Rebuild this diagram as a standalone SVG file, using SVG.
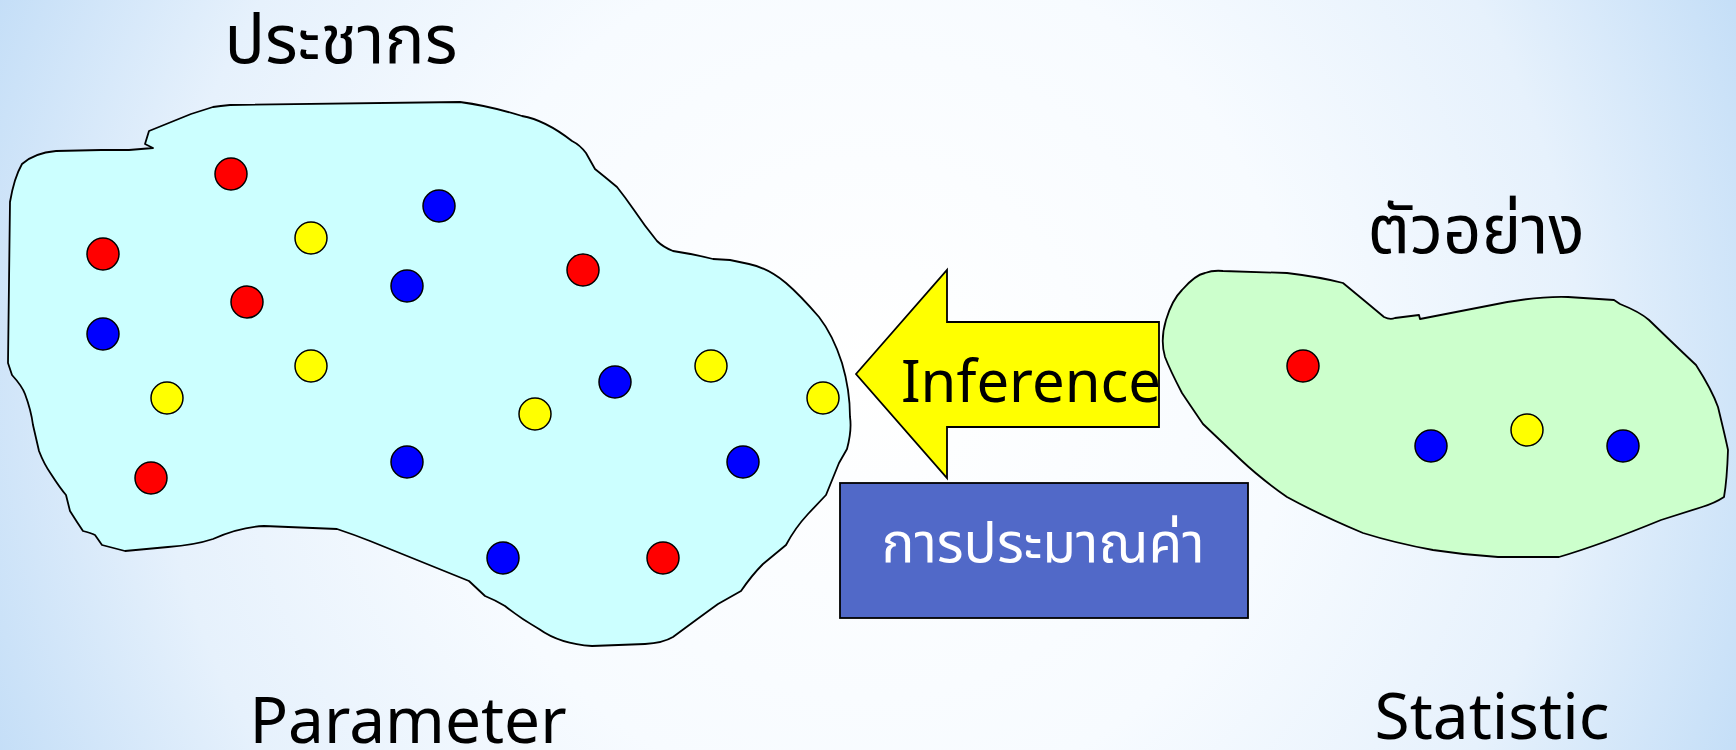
<svg xmlns="http://www.w3.org/2000/svg" width="1736" height="750" viewBox="0 0 1736 750">
<defs>
<radialGradient id="bg" gradientUnits="userSpaceOnUse" cx="868" cy="375" r="950">
<stop offset="0" stop-color="#ffffff"/>
<stop offset="0.45" stop-color="#f7fbff"/>
<stop offset="0.75" stop-color="#e6f1fc"/>
<stop offset="1" stop-color="#c4def7"/>
</radialGradient>
<style>
.blob{stroke:#000;stroke-width:1.8;stroke-linejoin:round}
.dot{stroke:#000;stroke-width:1.5}
.r{fill:#ff0000}.y{fill:#ffff00}.b{fill:#0000ff}
.lbl{font-family:"Noto Sans Thai","Open Sans","Noto Sans",sans-serif;fill:#000;text-anchor:middle}
.th{font-family:"Noto Sans Thai","Noto Sans Thai UI","Leelawadee UI","Open Sans",sans-serif;text-anchor:middle}
</style>
</defs>
<rect width="1736" height="750" fill="url(#bg)"/>

<g id="population">
<path class="blob" fill="#ccffff" d="M149,131 L145,144 L153,148 L129,150 L101,150 L56,151 Q34,153 22,164 Q14,178 10,202 L8,363 L12,375 Q22,386 25,394 Q31,410 33,425 L39,451 Q44,464 51,474 Q60,488 66,495 L70,511 L77,522 L83,531 Q91,533 95,535 L102,545 L125,551 L168,547 Q195,545 213,539 Q240,527 264,526 L337,529 Q355,535 370,541 L469,581 L485,596 Q495,600 505,606 Q520,618 539,629 Q560,644 592,646 L645,644 Q663,643 673,637 Q700,617 718,604 L741,591 Q752,575 763,564 L786,545 Q795,528 808,514 L826,495 L839,463 L847,449 Q852,430 850,417 Q850,390 842,363 Q833,335 819,317 Q800,295 786,283 Q768,268 749,264 L730,260 L713,259 Q693,254 673,251 Q663,247 657,241 Q644,225 634,210 Q625,197 617,187 Q605,177 595,169 L586,153 Q580,145 572,141 Q545,120 522,116 Q490,106 460,102 L230,105 Q220,106 213,107 L191,114 Z"/>
<circle class="dot r" cx="231" cy="174" r="16"/>
<circle class="dot b" cx="439" cy="206" r="16"/>
<circle class="dot y" cx="311" cy="238" r="16"/>
<circle class="dot r" cx="103" cy="254" r="16"/>
<circle class="dot r" cx="583" cy="270" r="16"/>
<circle class="dot b" cx="407" cy="286" r="16"/>
<circle class="dot r" cx="247" cy="302" r="16"/>
<circle class="dot b" cx="103" cy="334" r="16"/>
<circle class="dot y" cx="311" cy="366" r="16"/>
<circle class="dot y" cx="711" cy="366" r="16"/>
<circle class="dot b" cx="615" cy="382" r="16"/>
<circle class="dot y" cx="167" cy="398" r="16"/>
<circle class="dot y" cx="823" cy="398" r="16"/>
<circle class="dot y" cx="535" cy="414" r="16"/>
<circle class="dot b" cx="407" cy="462" r="16"/>
<circle class="dot b" cx="743" cy="462" r="16"/>
<circle class="dot r" cx="151" cy="478" r="16"/>
<circle class="dot b" cx="503" cy="558" r="16"/>
<circle class="dot r" cx="663" cy="558" r="16"/>
</g>

<g id="sample">
<path class="blob" fill="#ccffcc" d="M1223,271 L1287,273 Q1320,277 1343,283 L1366,302 L1384,317 Q1390,320 1395,318 L1419,315 L1420,319 L1492,305 Q1535,296 1568,297 L1614,300 L1620,304 Q1640,312 1649,320 Q1680,350 1696,365 Q1712,390 1718,407 Q1726,440 1728,450 Q1727,480 1724,497 Q1715,503 1702,507 L1661,520 Q1600,545 1559,557 L1498,557 Q1465,555 1433,550 Q1395,543 1363,533 Q1320,515 1287,497 Q1260,478 1241,460 Q1220,440 1203,424 Q1190,405 1182,393 Q1170,370 1165,357 Q1160,340 1166,320 Q1172,300 1182,290 Q1195,275 1205,273 Q1213,270 1223,271 Z"/>
<circle class="dot r" cx="1303" cy="366" r="16"/>
<circle class="dot b" cx="1431" cy="446" r="16"/>
<circle class="dot y" cx="1527" cy="430" r="16"/>
<circle class="dot b" cx="1623" cy="446" r="16"/>
</g>

<g id="connectors">
<g id="inference-arrow">
<polygon fill="#ffff00" stroke="#000" stroke-width="1.8" stroke-linejoin="miter" points="856,374 947,270 947,322 1159,322 1159,427 947,427 947,478"/>
<text class="lbl" x="1031" y="402" font-size="58">Inference</text>
</g>
</g>

<g id="estimation">
<rect x="840" y="483" width="408" height="135" fill="#5169c8" stroke="#000" stroke-width="1.8"/>
<text class="th" x="1043" y="562" font-size="55" fill="#ffffff">การประมาณค่า</text>
</g>

<g id="labels">
<text class="th" x="341" y="63" font-size="67" fill="#000">ประชากร</text>
<text class="th" x="1476" y="253" font-size="67" fill="#000">ตัวอย่าง</text>
<text class="lbl" x="408" y="743" font-size="64">Parameter</text>
<text class="lbl" x="1492" y="739" font-size="64">Statistic</text>
</g>
</svg>
